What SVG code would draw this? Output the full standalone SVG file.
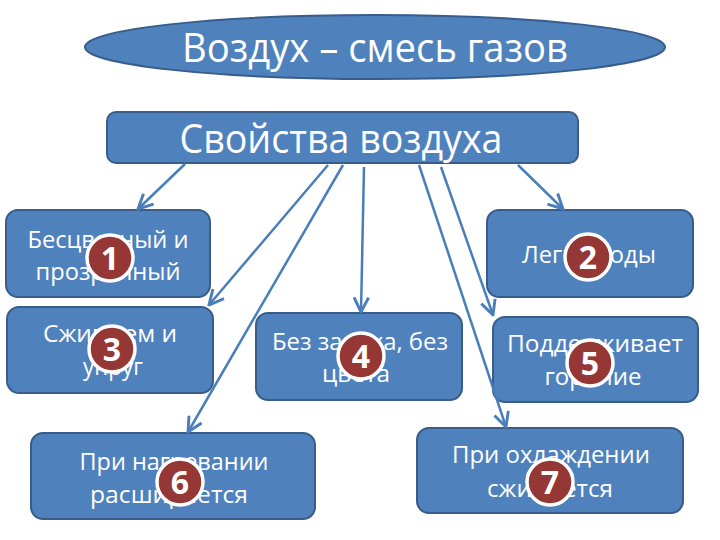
<svg xmlns="http://www.w3.org/2000/svg" width="720" height="540" viewBox="0 0 720 540">
<style>
.box{fill:#4f81bd;stroke:#385d8a;stroke-width:2}
.t{fill:#ffffff;font-family:"Open Sans","Noto Sans","DejaVu Sans",sans-serif;font-size:24px;text-anchor:middle}
.big{font-size:41px}
.badge circle{fill:#953735;stroke:#ffffff;stroke-width:3.5}
.badge text{fill:#ffffff;font-family:"Open Sans","DejaVu Sans",sans-serif;font-weight:bold;font-size:32px;text-anchor:middle}
.c line{stroke:#4a7ebb;stroke-width:2.5;marker-end:url(#ah)}
</style>
<defs>
<marker id="ah" viewBox="0 0 12 12" refX="11" refY="6" markerWidth="7" markerHeight="7" orient="auto" markerUnits="strokeWidth">
<path d="M1,1 L11,6 L1,11" fill="none" stroke="#4a7ebb" stroke-width="2"/>
</marker>
</defs>
<rect width="720" height="540" fill="#ffffff"/>
<g id="title">
<ellipse cx="375" cy="47" rx="290" ry="32" class="box"/>
<text x="375" y="62" class="t big" textLength="386" lengthAdjust="spacingAndGlyphs">Воздух – смесь газов</text>
</g>
<g id="props">
<rect x="107" y="112" width="471" height="51" rx="9" class="box"/>
<text x="341" y="153" class="t big" textLength="323" lengthAdjust="spacingAndGlyphs">Свойства воздуха</text>
</g>
<g id="n1">
<rect x="6" y="210" width="204" height="87" rx="12" class="box"/>
<text x="108" y="248" class="t" textLength="161" lengthAdjust="spacingAndGlyphs">Бесцветный и</text>
<text x="108" y="280" class="t" textLength="145" lengthAdjust="spacingAndGlyphs">прозрачный</text>
<g class="badge"><circle cx="110" cy="258" r="23"/><text x="110" y="270">1</text></g>
</g>
<g id="n2">
<rect x="487" y="210" width="206" height="87" rx="12" class="box"/>
<text x="589" y="263" class="t" textLength="134" lengthAdjust="spacingAndGlyphs">Легче воды</text>
<g class="badge"><circle cx="588" cy="257" r="23"/><text x="588" y="269">2</text></g>
</g>
<g id="n3">
<rect x="7" y="307" width="206" height="86" rx="12" class="box"/>
<text x="110" y="342" class="t" textLength="134" lengthAdjust="spacingAndGlyphs">Сжимаем и</text>
<text x="113" y="375" class="t" textLength="60" lengthAdjust="spacingAndGlyphs">упруг</text>
<g class="badge"><circle cx="112" cy="349" r="23"/><text x="112" y="361">3</text></g>
</g>
<g id="n4">
<rect x="256" y="313" width="206" height="87" rx="12" class="box"/>
<text x="360" y="350" class="t" textLength="176" lengthAdjust="spacingAndGlyphs">Без запаха, без</text>
<text x="356" y="382" class="t" textLength="68" lengthAdjust="spacingAndGlyphs">цвета</text>
<g class="badge"><circle cx="361" cy="356" r="23"/><text x="361" y="368">4</text></g>
</g>
<g id="n5">
<rect x="493" y="317" width="205" height="85" rx="12" class="box"/>
<text x="595" y="352" class="t" textLength="176" lengthAdjust="spacingAndGlyphs">Поддерживает</text>
<text x="593" y="385" class="t" textLength="97" lengthAdjust="spacingAndGlyphs">горение</text>
<g class="badge"><circle cx="590" cy="363" r="23"/><text x="590" y="375">5</text></g>
</g>
<g id="n6">
<rect x="31" y="433" width="284" height="86" rx="12" class="box"/>
<text x="174" y="470" class="t" textLength="189" lengthAdjust="spacingAndGlyphs">При нагревании</text>
<text x="169" y="503" class="t" textLength="158" lengthAdjust="spacingAndGlyphs">расширяется</text>
<g class="badge"><circle cx="180" cy="482" r="23"/><text x="180" y="494">6</text></g>
</g>
<g id="n7">
<rect x="417" y="428" width="266" height="85" rx="12" class="box"/>
<text x="551" y="463" class="t" textLength="198" lengthAdjust="spacingAndGlyphs">При охлаждении</text>
<text x="550" y="497" class="t" textLength="126" lengthAdjust="spacingAndGlyphs">сжимается</text>
<g class="badge"><circle cx="550" cy="482" r="23"/><text x="550" y="494">7</text></g>
</g>
<g id="connectors" class="c">
<line x1="185" y1="164" x2="138" y2="209"/>
<line x1="518" y1="165" x2="563" y2="209"/>
<line x1="328" y1="165" x2="209" y2="305"/>
<line x1="343" y1="165" x2="188" y2="432"/>
<line x1="364" y1="167" x2="361" y2="312"/>
<line x1="419" y1="165" x2="506" y2="427"/>
<line x1="441" y1="167" x2="493" y2="315"/>
</g>
</svg>
